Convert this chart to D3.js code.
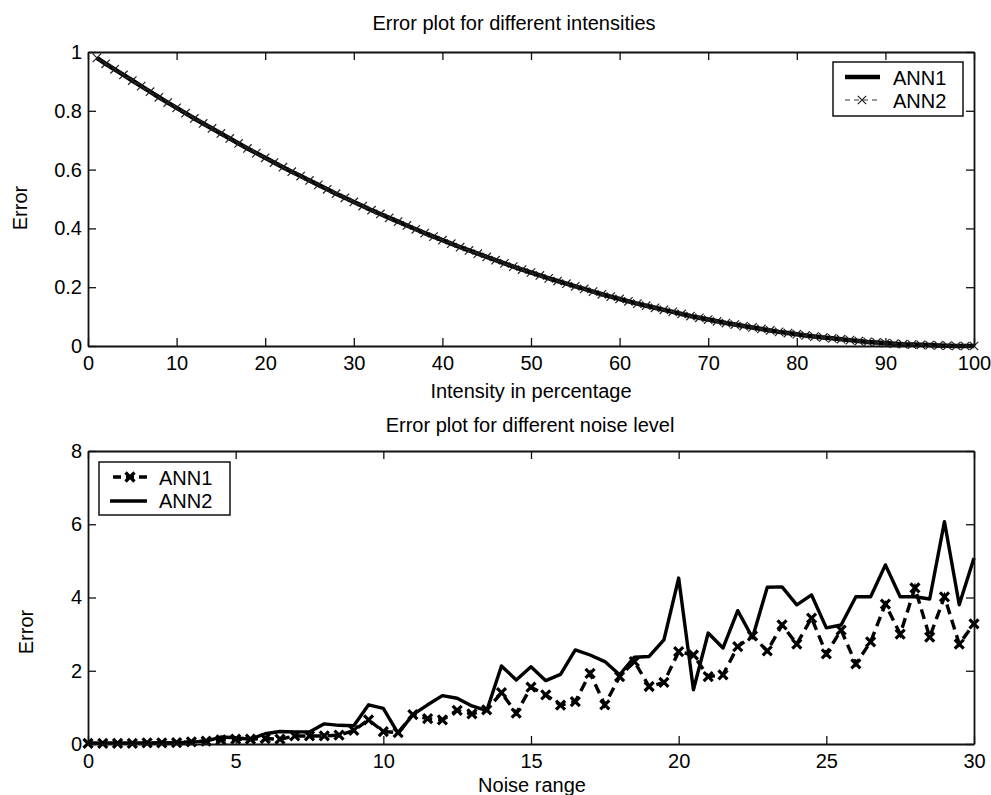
<!DOCTYPE html>
<html>
<head>
<meta charset="utf-8">
<script src="https://cdn.jsdelivr.net/npm/d3@7"></script>
<style>
  body { margin: 0; background: #fff; }
  text { font-family: "Liberation Sans", Arial, sans-serif; fill: #000; }
</style>
</head>
<body>
<div id="chart"></div>
<script>

// Panel 1 - error vs intensity
var intensity = [1,2,3,4,5,6,7,8,9,10,11,12,13,14,15,16,17,18,19,20,21,22,23,24,25,26,27,28,29,30,
  31,32,33,34,35,36,37,38,39,40,41,42,43,44,45,46,47,48,49,50,51,52,53,54,55,56,57,58,59,60,
  61,62,63,64,65,66,67,68,69,70,71,72,73,74,75,76,77,78,79,80,81,82,83,84,85,86,87,88,89,90,
  91,92,93,94,95,96,97,98,99,100];
// both networks give the same curve here
var intensityErr = [0.980,0.960,0.941,0.922,0.903,0.884,0.865,0.846,0.828,0.810,
  0.792,0.774,0.757,0.740,0.723,0.706,0.689,0.672,0.656,0.640,
  0.624,0.608,0.593,0.578,0.563,0.548,0.533,0.518,0.504,0.490,
  0.476,0.462,0.449,0.436,0.423,0.410,0.397,0.384,0.372,0.360,
  0.348,0.336,0.325,0.314,0.303,0.292,0.281,0.270,0.260,0.250,
  0.240,0.230,0.221,0.212,0.203,0.194,0.185,0.176,0.168,0.160,
  0.152,0.144,0.137,0.130,0.123,0.116,0.109,0.102,0.096,0.090,
  0.084,0.078,0.073,0.068,0.063,0.058,0.053,0.048,0.044,0.040,
  0.036,0.032,0.029,0.026,0.023,0.020,0.017,0.014,0.012,0.010,
  0.008,0.006,0.005,0.004,0.003,0.002,0.001,0,0,0];
var intensityXTicks = [0,10,20,30,40,50,60,70,80,90,100];
var intensityYTicks = [0,0.2,0.4,0.6,0.8,1];

// Panel 2 - error vs noise
var noise = [0,0.5,1,1.5,2,2.5,3,3.5,4,4.5,5,5.5,6,6.5,7,7.5,8,8.5,9,9.5,
  10,10.5,11,11.5,12,12.5,13,13.5,14,14.5,15,15.5,16,16.5,17,17.5,18,18.5,19,19.5,
  20,20.5,21,21.5,22,22.5,23,23.5,24,24.5,25,25.5,26,26.5,27,27.5,28,28.5,29,29.5,30];
var noiseAnn1 = [0.02,0.02,0.02,0.02,0.03,0.03,0.04,0.06,0.08,0.11,
  0.13,0.13,0.15,0.13,0.22,0.22,0.22,0.24,0.37,0.66,
  0.34,0.31,0.80,0.69,0.66,0.92,0.82,0.93,1.40,0.84,
  1.55,1.34,1.06,1.16,1.93,1.07,1.84,2.25,1.57,1.68,
  2.52,2.43,1.84,1.89,2.66,2.95,2.54,3.25,2.73,3.44,
  2.46,3.11,2.19,2.79,3.82,3.00,4.26,2.92,4.02,2.73,3.28];
var noiseAnn2 = [0.02,0.02,0.02,0.02,0.02,0.03,0.04,0.05,0.08,0.19,
  0.17,0.13,0.28,0.34,0.33,0.33,0.55,0.51,0.50,1.07,
  0.97,0.29,0.80,1.07,1.32,1.25,1.04,0.91,2.13,1.75,
  2.11,1.73,1.90,2.57,2.43,2.25,1.89,2.37,2.39,2.84,
  4.53,1.48,3.03,2.62,3.64,2.90,4.28,4.29,3.80,4.07,
  3.17,3.25,4.02,4.02,4.89,4.02,4.02,3.96,6.07,3.80,5.08];
var noiseXTicks = [0,5,10,15,20,25,30];
var noiseYTicks = [0,2,4,6,8];

var svg = d3.select("#chart")
  .append("svg")
  .attr("width", 991)
  .attr("height", 795);

var fontSize = 20;

// x shaped marker
function cross(s) {
  return "M" + (-s) + "," + (-s) + "L" + s + "," + s + "M" + (-s) + "," + s + "L" + s + "," + (-s);
}

// MATLAB style frame: ticks inside on all four sides
function frame(x, y, xTicks, yTicks, left, top, width, height) {
  var g = svg.append("g");
  var fmt = function(d) { return String(d); };

  g.append("g")
    .attr("transform", "translate(0," + (top + height) + ")")
    .call(d3.axisBottom(x).tickValues(xTicks).tickFormat(fmt)
      .tickSizeInner(-8).tickSizeOuter(0).tickPadding(10));
  g.append("g")
    .attr("transform", "translate(0," + top + ")")
    .call(d3.axisTop(x).tickValues(xTicks).tickFormat("")
      .tickSizeInner(-8).tickSizeOuter(0));
  g.append("g")
    .attr("transform", "translate(" + left + ",0)")
    .call(d3.axisLeft(y).tickValues(yTicks).tickFormat(fmt)
      .tickSizeInner(-8).tickSizeOuter(0).tickPadding(6));
  g.append("g")
    .attr("transform", "translate(" + (left + width) + ",0)")
    .call(d3.axisRight(y).tickValues(yTicks).tickFormat("")
      .tickSizeInner(-8).tickSizeOuter(0));

  g.selectAll(".tick line").attr("stroke", "#111").attr("stroke-width", 1.3);
  g.selectAll(".domain").attr("stroke", "#111").attr("stroke-width", 1.8);
  g.selectAll(".tick text")
    .style("font-family", "'Liberation Sans', Arial, sans-serif")
    .style("font-size", fontSize + "px")
    .attr("fill", "#000");
  return g;
}

// ---------- panel 1 ----------
var m1 = {left: 88, top: 52, width: 886, height: 294};

var x1 = d3.scaleLinear().domain([0, 100]).range([m1.left, m1.left + m1.width]);
var y1 = d3.scaleLinear().domain([0, 1]).range([m1.top + m1.height, m1.top]);

var line1 = d3.line()
  .x(function(d, i) { return x1(intensity[i]); })
  .y(function(d) { return y1(d); });

svg.append("path")
  .datum(intensityErr)
  .attr("d", line1)
  .attr("fill", "none")
  .attr("stroke", "#000")
  .attr("stroke-width", 4.5);

svg.append("path")
  .datum(intensityErr)
  .attr("d", line1)
  .attr("fill", "none")
  .attr("stroke", "#333")
  .attr("stroke-width", 1)
  .attr("stroke-dasharray", "5,4");

svg.selectAll(".m1")
  .data(intensityErr)
  .enter()
  .append("path")
  .attr("class", "m1")
  .attr("d", cross(4.2))
  .attr("transform", function(d, i) { return "translate(" + x1(intensity[i]) + "," + y1(d) + ")"; })
  .attr("fill", "none")
  .attr("stroke", "#222")
  .attr("stroke-width", 1.2);

frame(x1, y1, intensityXTicks, intensityYTicks, m1.left, m1.top, m1.width, m1.height);

svg.append("text")
  .attr("x", 514).attr("y", 30)
  .attr("text-anchor", "middle")
  .style("font-size", fontSize + "px")
  .text("Error plot for different intensities");

svg.append("text")
  .attr("x", 531).attr("y", 398)
  .attr("text-anchor", "middle")
  .style("font-size", fontSize + "px")
  .text("Intensity in percentage");

svg.append("text")
  .attr("transform", "translate(27,208) rotate(-90)")
  .attr("text-anchor", "middle")
  .style("font-size", fontSize + "px")
  .text("Error");

// legend 1
var lg1 = svg.append("g");
lg1.append("rect")
  .attr("x", 833).attr("y", 62).attr("width", 130).attr("height", 54)
  .attr("fill", "#fff").attr("stroke", "#111").attr("stroke-width", 1.5);
lg1.append("line")
  .attr("x1", 845).attr("x2", 880).attr("y1", 77).attr("y2", 77)
  .attr("stroke", "#000").attr("stroke-width", 4.5);
lg1.append("line")
  .attr("x1", 845).attr("x2", 880).attr("y1", 100).attr("y2", 100)
  .attr("stroke", "#333").attr("stroke-width", 1).attr("stroke-dasharray", "5,4");
lg1.append("path")
  .attr("d", cross(4.2))
  .attr("transform", "translate(862,100)")
  .attr("fill", "none").attr("stroke", "#222").attr("stroke-width", 1.2);
lg1.append("text").attr("x", 893).attr("y", 85)
  .style("font-size", fontSize + "px").text("ANN1");
lg1.append("text").attr("x", 893).attr("y", 108)
  .style("font-size", fontSize + "px").text("ANN2");

// ---------- panel 2 ----------
var m2 = {left: 88, top: 451, width: 886, height: 293};

var x2 = d3.scaleLinear().domain([0, 30]).range([m2.left, m2.left + m2.width]);
var y2 = d3.scaleLinear().domain([0, 8]).range([m2.top + m2.height, m2.top]);

var line2 = d3.line()
  .x(function(d, i) { return x2(noise[i]); })
  .y(function(d) { return y2(d); });

svg.append("path")
  .datum(noiseAnn2)
  .attr("d", line2)
  .attr("fill", "none")
  .attr("stroke", "#000")
  .attr("stroke-width", 3.4)
  .attr("stroke-linejoin", "round");

svg.append("path")
  .datum(noiseAnn1)
  .attr("d", line2)
  .attr("fill", "none")
  .attr("stroke", "#000")
  .attr("stroke-width", 3.4)
  .attr("stroke-dasharray", "10,6");

svg.selectAll(".m2")
  .data(noiseAnn1)
  .enter()
  .append("path")
  .attr("class", "m2")
  .attr("d", cross(4.5))
  .attr("transform", function(d, i) { return "translate(" + x2(noise[i]) + "," + y2(d) + ")"; })
  .attr("fill", "none")
  .attr("stroke", "#000")
  .attr("stroke-width", 3.2);

frame(x2, y2, noiseXTicks, noiseYTicks, m2.left, m2.top, m2.width, m2.height);

svg.append("text")
  .attr("x", 530).attr("y", 432)
  .attr("text-anchor", "middle")
  .style("font-size", fontSize + "px")
  .text("Error plot for different noise level");

svg.append("text")
  .attr("x", 532).attr("y", 792)
  .attr("text-anchor", "middle")
  .style("font-size", fontSize + "px")
  .text("Noise range");

svg.append("text")
  .attr("transform", "translate(33,632) rotate(-90)")
  .attr("text-anchor", "middle")
  .style("font-size", fontSize + "px")
  .text("Error");

// legend 2
var lg2 = svg.append("g");
lg2.append("rect")
  .attr("x", 99).attr("y", 462).attr("width", 131).attr("height", 53)
  .attr("fill", "#fff").attr("stroke", "#111").attr("stroke-width", 1.5);
lg2.append("line")
  .attr("x1", 113).attr("x2", 147).attr("y1", 477).attr("y2", 477)
  .attr("stroke", "#000").attr("stroke-width", 3.4).attr("stroke-dasharray", "8,5");
lg2.append("path")
  .attr("d", cross(4.5))
  .attr("transform", "translate(130,477)")
  .attr("fill", "none").attr("stroke", "#000").attr("stroke-width", 3.2);
lg2.append("line")
  .attr("x1", 110).attr("x2", 147).attr("y1", 501).attr("y2", 501)
  .attr("stroke", "#000").attr("stroke-width", 3.4);
lg2.append("text").attr("x", 159).attr("y", 485)
  .style("font-size", fontSize + "px").text("ANN1");
lg2.append("text").attr("x", 159).attr("y", 508)
  .style("font-size", fontSize + "px").text("ANN2");

</script>
</body>
</html>
